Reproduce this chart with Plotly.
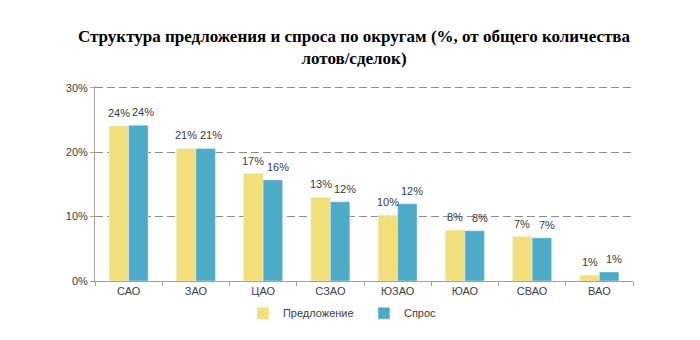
import plotly.graph_objects as go

categories = ["САО", "ЗАО", "ЦАО", "СЗАО", "ЮЗАО", "ЮАО", "СВАО", "ВАО"]
supply = [24.1, 20.6, 16.7, 13.0, 10.2, 7.9, 6.9, 0.9]
demand = [24.2, 20.6, 15.7, 12.3, 12.0, 7.8, 6.7, 1.4]
supply_labels = ["24%", "21%", "17%", "13%", "10%", "8%", "7%", "1%"]
demand_labels = ["24%", "21%", "16%", "12%", "12%", "8%", "7%", "1%"]
y_ticks = [0, 10, 20, 30]
y_tick_labels = ["0%", "10%", "20%", "30%"]

label_font = dict(size=11, color="#3A3A3A", family="Liberation Sans")
BARGAP = 0.42
cat_px = 538 / len(categories)
bar_px = cat_px * (1 - BARGAP) / 2

fig = go.Figure()
fig.add_trace(go.Bar(x=categories, y=supply, name="Предложение", marker_color="#F4E07A"))
fig.add_trace(go.Bar(x=categories, y=demand, name="Спрос", marker_color="#4DABC8"))

annotations = []
for c, v, t in zip(categories, supply, supply_labels):
    annotations.append(dict(x=c, y=v, text=t, showarrow=False, xanchor="center", yanchor="bottom",
                            xshift=-bar_px / 2, yshift=5, font=label_font))
for c, v, t in zip(categories, demand, demand_labels):
    annotations.append(dict(x=c, y=v, text=t, showarrow=False, xanchor="center", yanchor="bottom",
                            xshift=bar_px / 2 + 5, yshift=5, font=label_font))
annotations.append(dict(text="<b>Структура предложения и спроса по округам (%, от общего количества<br>лотов/сделок)</b>",
                        xref="paper", yref="paper", x=(354 - 95) / 538, y=1 + (86 - 47) / 195,
                        xanchor="center", yanchor="middle", showarrow=False, align="center",
                        font=dict(family="Liberation Serif", size=17, color="black")))

fig.update_layout(
    width=700, height=340,
    margin=dict(l=95, r=67, t=86, b=59),
    paper_bgcolor="white", plot_bgcolor="white",
    barmode="group", bargap=BARGAP, bargroupgap=0,
    font=dict(family="Liberation Sans", size=11, color="#404040"),
    legend=dict(orientation="h", x=0.275, xanchor="left", y=-0.165, yanchor="middle",
                font=dict(size=11, color="#404040"), itemwidth=30, traceorder="normal",
                entrywidth=76, entrywidthmode="pixels"),
    annotations=annotations,
)
fig.update_xaxes(showline=True, linecolor="#A0A0A0", linewidth=1, ticks="outside",
                 tickson="boundaries", ticklen=4, tickcolor="#A0A0A0",
                 tickfont=dict(size=11, color="#404040"), showgrid=False)
fig.update_yaxes(range=[0, 30.3], tickvals=y_ticks, ticktext=y_tick_labels,
                 showline=True, linecolor="#A0A0A0", linewidth=1, ticks="outside",
                 ticklen=4, tickcolor="#A0A0A0", showgrid=True, gridcolor="#8C8C8C",
                 griddash="8px,4px", gridwidth=1, zeroline=False,
                 tickfont=dict(size=11, color="#404040"))

fig.write_html("out.html")
